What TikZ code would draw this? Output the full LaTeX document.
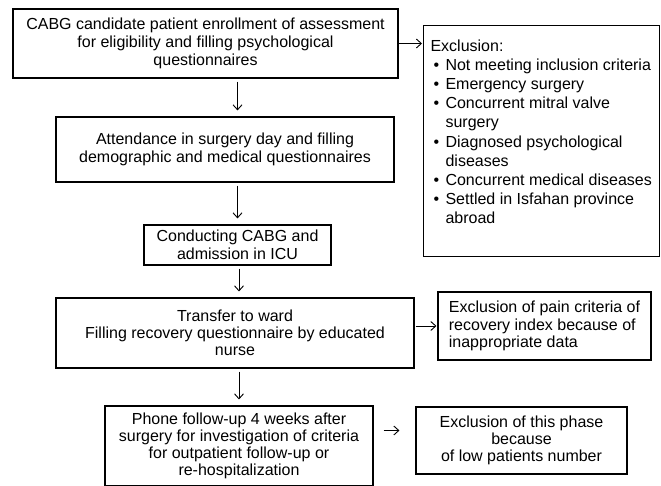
\documentclass[tikz,border=0pt]{standalone}
\usepackage{fontspec}
\setmainfont{Liberation Sans}
\usepackage{tikz}
\usetikzlibrary{arrows.meta, positioning}

\tikzset{
  flowbox/.style={draw, line width=1.1pt, align=center, inner sep=0pt,
    font=\fontsize{16}{18}\selectfont},
  lowbox/.style={flowbox, font=\fontsize{16}{17.2}\selectfont},
  flowarrow/.style={-{Straight Barb[length=5pt,width=9pt]}, line width=0.9pt,
    shorten <=3pt, shorten >=6pt}
}
\newcommand{\exclitem}[1]{\par\hspace*{3pt}\makebox[12pt][l]{\textbullet}#1}
\newcommand{\exclcont}[1]{\par\hspace*{3pt}\makebox[12pt][l]{}#1}

\begin{document}
\begin{tikzpicture}[x=1pt, y=-1pt]
  \useasboundingbox (0,0) rectangle (661,486);

  % --- Main column ---
  \node[flowbox, minimum width=385pt, minimum height=69pt] (enroll) at (205.5,43.5)
    {CABG candidate patient enrollment of assessment\\for eligibility and filling psychological\\questionnaires};
  \node[flowbox, minimum width=338pt, minimum height=65pt] (attend) at (225,149.5)
    {Attendance in surgery day and filling\\demographic and medical questionnaires};
  \node[flowbox, minimum width=187pt, minimum height=40pt] (icu) at (237.5,245)
    {Conducting CABG and\\admission in ICU};
  \node[lowbox, minimum width=358pt, minimum height=70pt] (ward) at (235,333)
    {Transfer to ward\\Filling recovery questionnaire by educated\\nurse};
  \node[lowbox, minimum width=268pt, minimum height=80pt] (phone) at (239,446)
    {Phone follow-up 4 weeks after\\surgery for investigation of criteria\\for outpatient follow-up or\\re-hospitalization};

  % --- Exclusion boxes ---
  \node[flowbox, anchor=north west] (excl) at (423,25)
    {\begin{minipage}[t][231pt][t]{236pt}
      \fontsize{16}{19.2}\selectfont\leftskip=7pt\rightskip=0pt plus 1fil
      \vspace*{14pt}
      Exclusion:
      \exclitem{Not meeting inclusion criteria}
      \exclitem{Emergency surgery}
      \exclitem{Concurrent mitral valve}
      \exclcont{surgery}
      \exclitem{Diagnosed psychological}
      \exclcont{diseases}
      \exclitem{Concurrent medical diseases}
      \exclitem{Settled in Isfahan province}
      \exclcont{abroad}
    \end{minipage}};
  \node[lowbox, align=left, minimum width=213pt, minimum height=68pt] (pain) at (544.5,326)
    {Exclusion of pain criteria of\\recovery index because of\\inappropriate data};
  \node[lowbox, minimum width=211pt, minimum height=67pt] (phase) at (521.5,440.5)
    {Exclusion of this phase\\because\\of low patients number};

  % --- Arrows ---
  \draw[flowarrow] (enroll.south -| icu) -- (attend.north -| icu);
  \draw[flowarrow] (attend.south -| icu) -- (icu.north);
  \draw[flowarrow] (icu.south -| phone) -- (ward.north -| phone);
  \draw[flowarrow] (ward.south -| phone) -- (phone.north);
  \draw[flowarrow, shorten <=0pt, shorten >=1pt] (enroll.east) -- (enroll.east -| excl.west);
  \draw[flowarrow, shorten <=1pt, shorten >=1pt] (pain.west -| ward.east) -- (pain.west);
  \draw[flowarrow, shorten <=10pt, shorten >=16pt] ([yshift=10pt]phone.east |- phase.west) -- ([yshift=10pt]phase.west);
\end{tikzpicture}
\end{document}
